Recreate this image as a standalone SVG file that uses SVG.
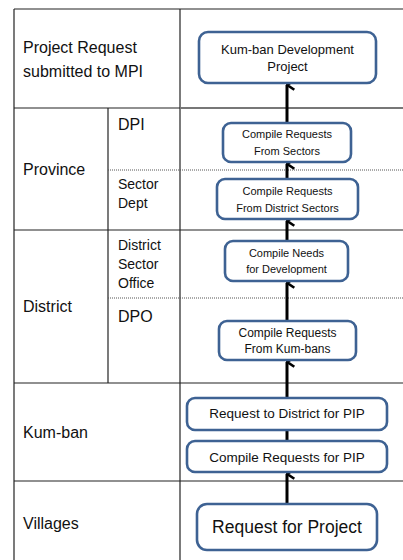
<svg xmlns="http://www.w3.org/2000/svg" width="403" height="560" viewBox="0 0 403 560">
  <defs>
    <marker id="arrow" viewBox="0 0 12 10" refX="6" refY="1.2" markerWidth="12" markerHeight="10" markerUnits="userSpaceOnUse" orient="auto-start-reverse">
      <path d="M1.2 8.5 L6 1.5 L10.8 8.5" fill="none" stroke="#000" stroke-width="2.6" stroke-linejoin="miter"/>
    </marker>
  </defs>
  <style>
    .grid { stroke: #222; stroke-width: 1.2; fill: none; }
    .soft { stroke: #777; stroke-width: 2; fill: none; }
    .dot { stroke: #555; stroke-width: 1; stroke-dasharray: 1 1; fill: none; }
    .lbl { font-family: "Liberation Sans", Arial, sans-serif; font-size: 16px; fill: #111; }
    .sub { font-family: "Liberation Sans", Arial, sans-serif; font-size: 14px; fill: #111; }
    .box { fill: #fff; stroke: #3E6293; stroke-width: 2.6; }
    .bt { font-family: "Liberation Sans", Arial, sans-serif; font-size: 11px; fill: #111; text-anchor: middle; }
    .link { stroke: #000; stroke-width: 3; fill: none; }
  </style>
  <rect width="403" height="560" fill="#fff"/>

  <!-- table grid -->
  <g id="table">
    <line class="grid" x1="14" y1="9" x2="403" y2="9"/>
    <line class="grid" x1="14" y1="9" x2="14" y2="560"/>
    <line class="grid" x1="180" y1="9" x2="180" y2="560"/>
    <line class="grid" x1="108" y1="108" x2="108" y2="383"/>
    <line class="grid" x1="14" y1="108" x2="180" y2="108"/>
    <line class="soft" x1="180" y1="108" x2="403" y2="108"/>
    <line class="dot" x1="108" y1="170" x2="403" y2="170"/>
    <line class="grid" x1="14" y1="230" x2="403" y2="230"/>
    <line class="dot" x1="108" y1="298" x2="403" y2="298"/>
    <line class="grid" x1="14" y1="383" x2="403" y2="383"/>
    <line class="grid" x1="14" y1="481" x2="403" y2="481"/>
  </g>

  <!-- level labels -->
  <g id="labels">
    <text class="lbl" x="23" y="53">Project Request</text>
    <text class="lbl" x="23" y="77">submitted to MPI</text>
    <text class="lbl" x="118" y="130">DPI</text>
    <text class="lbl" x="23" y="175">Province</text>
    <text class="sub" x="118" y="189">Sector</text>
    <text class="sub" x="118" y="208">Dept</text>
    <text class="sub" x="118" y="250">District</text>
    <text class="sub" x="118" y="269">Sector</text>
    <text class="sub" x="118" y="288">Office</text>
    <text class="lbl" x="23" y="312">District</text>
    <text class="lbl" x="118" y="322">DPO</text>
    <text class="lbl" x="23" y="438">Kum-ban</text>
    <text class="lbl" x="23" y="529">Villages</text>
  </g>

  <!-- connectors -->
  <g id="connectors">
    <line class="link" x1="287" y1="123" x2="287" y2="85" marker-end="url(#arrow)"/>
    <line class="link" x1="287" y1="179" x2="287" y2="164" marker-end="url(#arrow)"/>
    <line class="link" x1="287" y1="241" x2="287" y2="221" marker-end="url(#arrow)"/>
    <line class="link" x1="287" y1="321" x2="287" y2="283" marker-end="url(#arrow)"/>
    <line class="link" x1="287" y1="398" x2="287" y2="362" marker-end="url(#arrow)"/>
    <line class="link" x1="287" y1="441" x2="287" y2="430"/>
    <line class="link" x1="287" y1="504" x2="287" y2="474" marker-end="url(#arrow)"/>
  </g>

  <g id="n-project">
    <rect class="box" x="199" y="32" width="177" height="51" rx="9"/>
    <text class="bt" x="287.5" y="54" style="font-size:13px">Kum-ban Development</text>
    <text class="bt" x="287.5" y="71" style="font-size:13px">Project</text>
  </g>
  <g id="n-sectors">
    <rect class="box" x="223" y="123" width="128" height="39" rx="8"/>
    <text class="bt" x="287" y="138">Compile Requests</text>
    <text class="bt" x="287" y="155">From Sectors</text>
  </g>
  <g id="n-district-sectors">
    <rect class="box" x="217" y="179" width="141" height="40" rx="8"/>
    <text class="bt" x="287.5" y="195">Compile Requests</text>
    <text class="bt" x="287.5" y="212">From District Sectors</text>
  </g>
  <g id="n-needs">
    <rect class="box" x="225" y="241" width="123" height="40" rx="8"/>
    <text class="bt" x="286.5" y="257">Compile Needs</text>
    <text class="bt" x="286.5" y="273">for Development</text>
  </g>
  <g id="n-kumbans">
    <rect class="box" x="219" y="321" width="137" height="39" rx="8"/>
    <text class="bt" x="287.5" y="337" style="font-size:12px">Compile Requests</text>
    <text class="bt" x="287.5" y="353" style="font-size:12px">From Kum-bans</text>
  </g>
  <g id="n-request-district">
    <rect class="box" x="187" y="398" width="200" height="32" rx="8"/>
    <text class="bt" x="287" y="418" style="font-size:13.5px">Request to District for PIP</text>
  </g>
  <g id="n-compile-pip">
    <rect class="box" x="187" y="441" width="200" height="31" rx="8"/>
    <text class="bt" x="287" y="462" style="font-size:13.5px">Compile Requests for PIP</text>
  </g>
  <g id="n-village-request">
    <rect class="box" x="197" y="504" width="180" height="46" rx="10"/>
    <text class="bt" x="287" y="533" style="font-size:17.5px">Request for Project</text>
  </g>
</svg>
